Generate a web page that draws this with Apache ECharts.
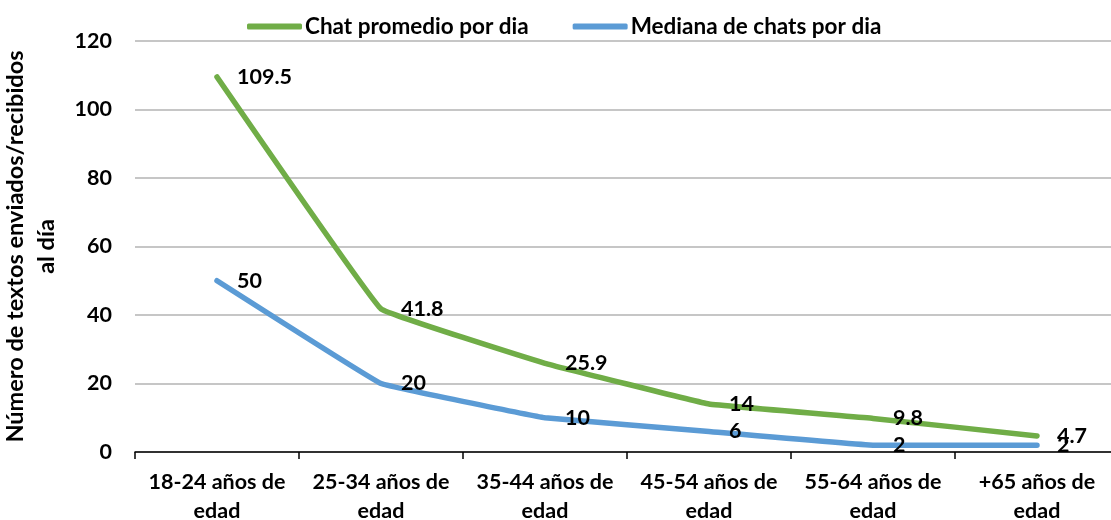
<!DOCTYPE html>
<html>
<head>
<meta charset="utf-8">
<script src="https://cdn.jsdelivr.net/npm/echarts@6/dist/echarts.min.js"></script>
<style>
  html, body { margin: 0; padding: 0; background: #fff; }
  #main { width: 1111px; height: 520px; }
</style>
</head>
<body>
<div id="main"></div>
<script>
// datos
var categorias = ['18-24 años de\nedad', '25-34 años de\nedad', '35-44 años de\nedad',
                  '45-54 años de\nedad', '55-64 años de\nedad', '+65 años de\nedad'];
var chatPromedio = [109.5, 41.8, 25.9, 14, 9.8, 4.7];
var chatMediana = [50, 20, 10, 6, 2, 2];
var ejeY = { min: 0, max: 120, interval: 20 };

var fuente = 'Lato';
var tam = 21.5;
var myChart = echarts.init(document.getElementById('main'));

var etiqueta = {
    show: true,
    position: 'right',
    distance: 20,
    color: '#000',
    fontFamily: fuente,
    fontWeight: 'bold',
    fontSize: tam
};

var option = {
    animation: false,
    legend: {
        left: 242,
        top: 10,
        itemWidth: 55,
        itemHeight: 6,
        itemGap: 44,
        icon: 'roundRect',
        textStyle: { color: '#000', fontFamily: fuente, fontWeight: 'bold', fontSize: 22.5, padding: [0, 0, 0, -2] },
        data: ['Chat promedio por dia', 'Mediana de chats por dia']
    },
    grid: {
        left: 135,
        right: -8,
        top: 41,
        bottom: 68,
        outerBoundsMode: 'none',
        containLabel: false
    },
    xAxis: {
        type: 'category',
        data: categorias,
        axisLine: { lineStyle: { color: '#000', width: 1.5 } },
        axisTick: { show: true, length: 7, lineStyle: { color: '#000', width: 1.5 } },
        axisLabel: {
            color: '#000', fontFamily: fuente, fontWeight: 'bold', fontSize: tam,
            lineHeight: 29, margin: 16, interval: 0
        }
    },
    yAxis: {
        type: 'value',
        min: ejeY.min,
        max: ejeY.max,
        interval: ejeY.interval,
        name: 'Número de textos enviados/recibidos\nal día',
        nameLocation: 'middle',
        nameGap: 73,
        nameTextStyle: { color: '#000', fontFamily: fuente, fontWeight: 'bold', fontSize: 23.5, lineHeight: 31 },
        axisLine: { show: false },
        axisTick: { show: false },
        axisLabel: { color: '#000', fontFamily: fuente, fontWeight: 'bold', fontSize: tam, margin: 23 },
        splitLine: { lineStyle: { color: '#b3b3b3', width: 1.5 } }
    },
    series: [{
        name: 'Chat promedio por dia',
        type: 'line',
        data: chatPromedio,
        smooth: 0.05,
        symbol: 'circle',
        symbolSize: 0,
        showSymbol: true,
        color: '#70AD47',
        lineStyle: { width: 5.5, cap: 'round', join: 'round' },
        label: etiqueta
    }, {
        name: 'Mediana de chats por dia',
        type: 'line',
        data: chatMediana,
        smooth: 0.05,
        symbol: 'circle',
        symbolSize: 0,
        showSymbol: true,
        color: '#5B9BD5',
        lineStyle: { width: 5.5, cap: 'round', join: 'round' },
        label: etiqueta
    }]
};
myChart.setOption(option);
</script>
</body>
</html>
